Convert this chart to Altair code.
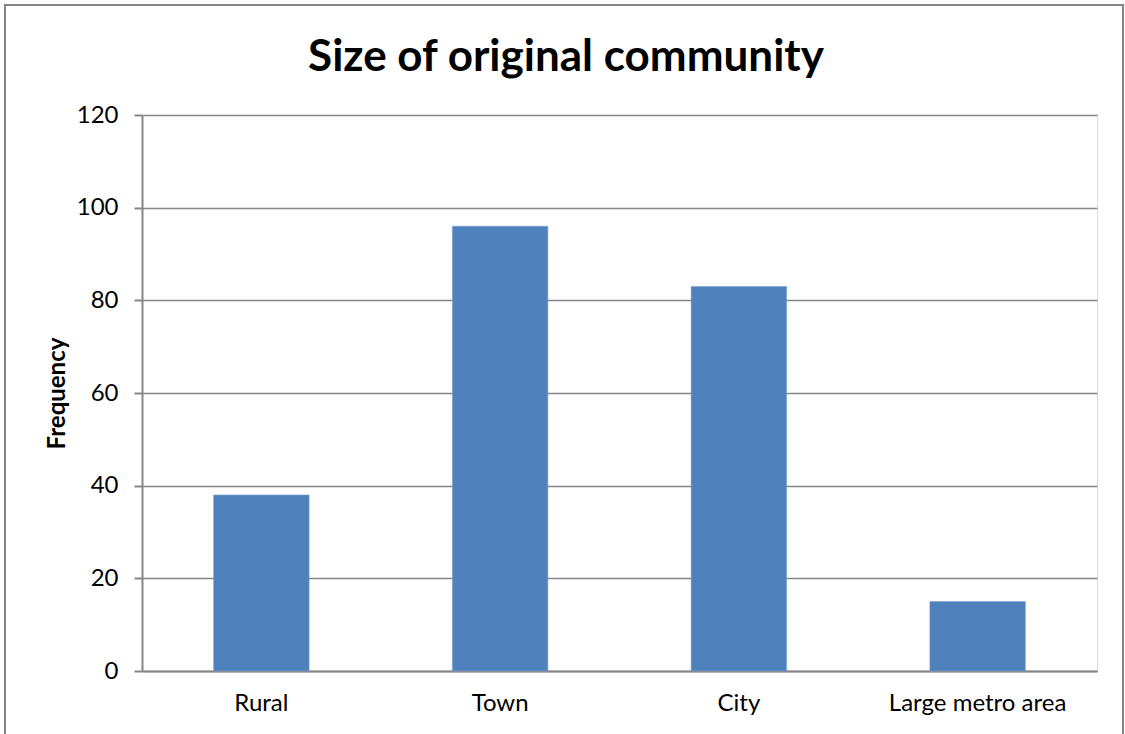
import altair as alt
import pandas as pd

categories = ["Rural", "Town", "City", "Large metro area"]
frequencies = [38, 96, 83, 15]
y_ticks = [0, 20, 40, 60, 80, 100, 120]
chart_title = "Size of original community"

df = pd.DataFrame({"category": categories, "frequency": frequencies})

FONT = "Lato"
GRID = "#868686"

bars = alt.Chart(df).mark_bar(color="#4F81BD", stroke="#7FA3D0", strokeWidth=0.6).encode(
    x=alt.X(
        "category:N",
        sort=categories,
        scale=alt.Scale(paddingInner=0.6, paddingOuter=0.3),
        axis=alt.Axis(
            title=None, labelAngle=0, labelFontSize=24, labelFont=FONT, labelColor="#000000",
            ticks=False, domainColor=GRID, domainWidth=2, labelPadding=20, grid=False,
        ),
    ),
    y=alt.Y(
        "frequency:Q",
        scale=alt.Scale(domain=[0, 120], nice=False),
        axis=alt.Axis(
            title="Frequency", values=y_ticks, labelFontSize=24, labelFont=FONT, labelColor="#000000",
            tickSize=8, tickColor=GRID, tickWidth=2, domainColor=GRID, domainWidth=2,
            labelPadding=16, gridColor=GRID, gridWidth=1.5,
            titleFont=FONT, titleFontSize=24, titleFontWeight="bold", titleColor="#000000",
            titleAngle=270, titleBaseline="middle", titleAlign="center", titleX=-85, titleY=278,
        ),
    ),
)

frame = alt.Chart(df).mark_rect(fill=None, stroke=GRID, strokeWidth=2, clip=False).encode(
    x=alt.value(-137), x2=alt.value(981), y=alt.value(-110), y2=alt.value(700)
)

title_df = pd.DataFrame({"t": [chart_title]})
title = alt.Chart(title_df).mark_text(
    font=FONT, fontSize=44, fontWeight="bold", color="#000000", align="center", baseline="alphabetic"
).encode(text="t:N", x=alt.value(424), y=alt.value(-44))

chart = alt.layer(frame, bars, title).properties(
    width=955,
    height=556,
    autosize=alt.AutoSizeParams(type="none"),
    padding={"left": 142, "top": 115, "right": 28, "bottom": 63},
).configure_view(stroke=None).configure(background="white")

chart.save("out.html", embed_options={"renderer": "svg", "actions": False})
